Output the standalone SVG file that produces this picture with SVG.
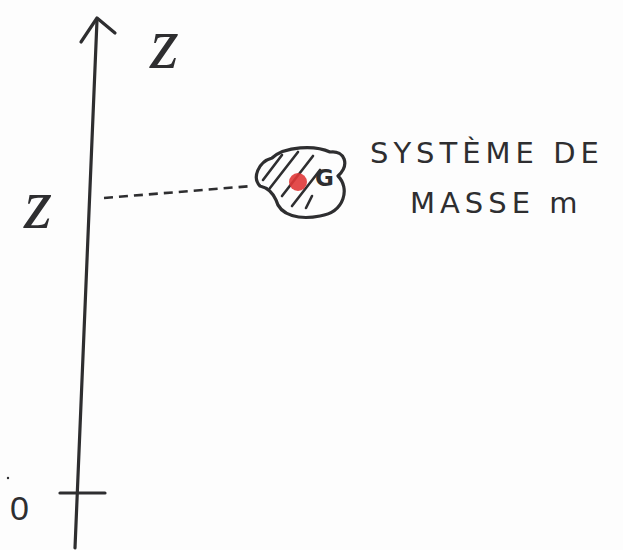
<svg xmlns="http://www.w3.org/2000/svg" width="623" height="550" viewBox="0 0 623 550">
<style>
.ink{fill:none;stroke:#2e2e30;stroke-width:3.2;stroke-linecap:round;stroke-linejoin:round}
.hatch{fill:none;stroke:#2e2e30;stroke-width:2.6;stroke-linecap:round}
.lbl{font-family:"Liberation Serif",serif;font-style:italic;fill:#2e2e30}
.txt{font-family:"DejaVu Sans",sans-serif;fill:#2e2e30;font-size:29px;letter-spacing:5px}
</style>
<rect width="623" height="550" fill="#fdfdfd"/>
<g id="axis">
<path class="ink" d="M97,20 L75,548"/>
<path class="ink" d="M81,42 L97,18 L115,33"/>
<path class="ink" d="M60,493 L105,493"/>
<text class="lbl" x="150" y="68" font-size="74">z</text>
<text class="lbl" x="24" y="228" font-size="72">z</text>
<text x="10" y="520" font-family="Liberation Sans, sans-serif" font-size="34" fill="#2e2e30">0</text>
<circle cx="8" cy="478" r="1.2" fill="#2e2e30"/>
</g>
<g id="connectors">
<path d="M104,198 L252,186" fill="none" stroke="#2e2e30" stroke-width="2.6" stroke-dasharray="9,6"/>
</g>
<g id="system">
<path class="ink" d="M272,158 C285,146 315,145 330,152 C345,150 350,165 338,176 C350,188 345,212 320,216 C300,220 280,216 276,200 C272,192 268,188 260,186 C252,178 258,162 272,158 Z"/>
<path class="hatch" d="M263,180 L282,155 M270,188 L298,152 M282,196 L313,156 M292,206 L320,170 M306,208 L312,196"/>
<circle cx="298" cy="182" r="9" fill="#e03838" opacity="0.9"/>
<text x="315" y="186" font-family="DejaVu Sans, sans-serif" font-size="23" font-weight="bold" fill="#2e2e30">G</text>
</g>
<g id="label">
<text class="txt" x="370" y="163">SYSTÈME DE</text>
<text class="txt" x="410" y="213">MASSE m</text>
</g>
</svg>
